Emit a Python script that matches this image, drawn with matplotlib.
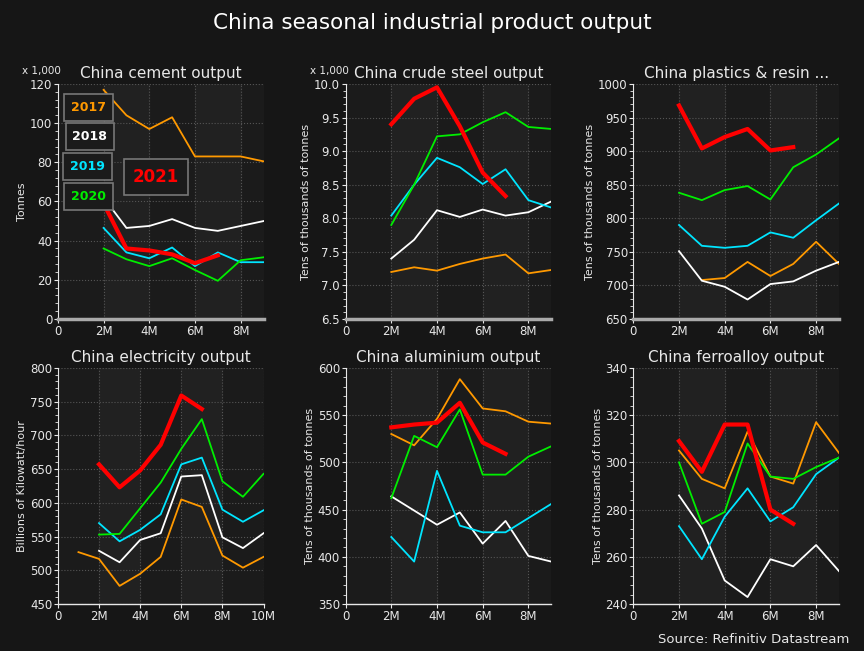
import matplotlib
matplotlib.use("Agg")
import matplotlib.pyplot as plt
from matplotlib.ticker import MultipleLocator, FixedLocator

months = [2, 3, 4, 5, 6, 7, 8, 9]
months_2021 = [2, 3, 4, 5, 6, 7]

cement_2017 = [117, 104, 97, 103, 83, 83, 83, 80.5]
cement_2018 = [62, 46.5, 47.5, 51, 46.5, 45, 47.5, 50]
cement_2019 = [46.5, 34, 31, 36.5, 27, 34, 29, 29]
cement_2020 = [36, 30.5, 27, 31, 25, 19.5, 30, 31.5]
cement_2021 = [59, 36, 35, 33, 28.5, 32.5]

steel_2017 = [7.2, 7.27, 7.22, 7.32, 7.4, 7.46, 7.18, 7.23]
steel_2018 = [7.4, 7.68, 8.12, 8.02, 8.13, 8.04, 8.09, 8.25]
steel_2019 = [8.04, 8.5, 8.9, 8.76, 8.51, 8.73, 8.27, 8.16]
steel_2020 = [7.9, 8.5, 9.22, 9.25, 9.43, 9.58, 9.36, 9.33]
steel_2021 = [9.4, 9.78, 9.95, 9.37, 8.68, 8.33]

plastics_months_2017 = [3, 4, 5, 6, 7, 8, 9]
plastics_2017 = [708, 711, 735, 714, 732, 765, 732]
plastics_2018 = [751, 707, 698, 679, 702, 706, 722, 735]
plastics_2019 = [790, 759, 756, 759, 779, 771, 797, 822]
plastics_2020 = [838, 827, 842, 848, 828, 876, 895, 919]
plastics_2021 = [968, 904, 921, 933, 901, 906]

elec_months_2017 = [1, 2, 3, 4, 5, 6, 7, 8, 9, 10]
elec_months = [2, 3, 4, 5, 6, 7, 8, 9, 10]
elec_2017 = [527, 517, 477, 495, 520, 605, 594, 522, 504, 520]
elec_2018 = [529, 512, 545, 555, 639, 641, 549, 533, 555]
elec_2019 = [570, 543, 560, 583, 657, 667, 590, 572, 589]
elec_2020 = [553, 554, 592, 630, 680, 724, 632, 609, 643]
elec_2021 = [657, 623, 648, 686, 759, 739]

alu_2017 = [530, 518, 546, 588, 557, 554, 543, 541]
alu_2018 = [464, 449, 434, 447, 414, 438, 401, 395]
alu_2019 = [421, 395, 491, 433, 426, 426, 441, 456]
alu_2020 = [462, 528, 516, 556, 487, 487, 506, 517]
alu_2021 = [537, 540, 542, 563, 521, 509]

ferro_2017 = [305, 293, 289, 313, 294, 291, 317, 304]
ferro_2018 = [286, 272, 250, 243, 259, 256, 265, 254]
ferro_2019 = [273, 259, 277, 289, 275, 281, 295, 302]
ferro_2020 = [300, 274, 279, 308, 294, 293, 298, 302]
ferro_2021 = [309, 296, 316, 316, 280, 274]

C17, C18, C19, C20, C21 = "#ff9900", "#ffffff", "#00e5ff", "#00ee00", "#ff0000"
FG = "#e8e8e8"

fig = plt.figure(figsize=(8.64, 6.51), dpi=100, facecolor="#161616")
fig.text(0.5, 0.965, "China seasonal industrial product output", ha="center", va="center",
         color="white", fontsize=15.5)


def make_panel(rect, title, ylabel, ylim, ystep, xmax, series, multiplier=False, bottom_gray=True):
    ax = fig.add_axes(rect, facecolor="#1b1b1b")
    for x0 in range(2, xmax, 4):
        ax.axvspan(x0, x0 + 2, color="#212121", zorder=0)
    for xs, ys, c, lw in series:
        ax.plot(xs, ys, color=c, lw=lw, zorder=3)
    ax.set_xlim(0, xmax)
    ax.set_ylim(*ylim)
    ax.xaxis.set_major_locator(FixedLocator(list(range(0, xmax + 1, 2))))
    ax.set_xticklabels(["0"] + ["%dM" % m for m in range(2, xmax + 1, 2)])
    ax.yaxis.set_major_locator(MultipleLocator(ystep))
    ax.yaxis.set_minor_locator(MultipleLocator(ystep / 5))
    ax.grid(True, color="#555555", ls=":", lw=0.8)
    ax.set_title(title, color=FG, fontsize=11, pad=4)
    ax.set_ylabel(ylabel, color=FG, fontsize=8, labelpad=2)
    ax.tick_params(colors=FG, labelsize=8.5, length=3, pad=1)
    ax.tick_params(which="minor", colors=FG, length=2)
    for s in ["top", "right"]:
        ax.spines[s].set_visible(False)
    ax.spines["left"].set_color(FG)
    ax.spines["bottom"].set_color("#aaaaaa" if bottom_gray else FG)
    ax.spines["bottom"].set_linewidth(2.5 if bottom_gray else 1)
    if multiplier:
        ax.text(-0.08, 1.035, "x 1,000", transform=ax.transAxes, ha="center", va="bottom",
                color=FG, fontsize=7.5)
    return ax


def yearly(x_full, d17, d18, d19, d20, d21, x17=None):
    return [(x17 or x_full, d17, C17, 1.3), (x_full, d18, C18, 1.3), (x_full, d19, C19, 1.3),
            (x_full, d20, C20, 1.3), (months_2021, d21, C21, 3)]


w, h = 0.238, 0.361
ax1 = make_panel([0.067, 0.51, w, h], "China cement output", "Tonnes", (0, 120), 20, 9,
                 yearly(months, cement_2017, cement_2018, cement_2019, cement_2020, cement_2021),
                 multiplier=True)
for label, x, y, c, fs in [("2017", 1.35, 108, C17, 9), ("2018", 1.4, 93, C18, 9),
                           ("2019", 1.3, 78, C19, 9), ("2020", 1.35, 62.5, C20, 9),
                           ("2021", 4.3, 72.5, C21, 12)]:
    ax1.text(x, y, label, color=c, fontsize=fs, fontweight="bold", ha="center", va="center",
             zorder=5, bbox=dict(boxstyle="square,pad=0.55", fc="#1b1b1b", ec="#777777", lw=1.2))

make_panel([0.40, 0.51, w, h], "China crude steel output", "Tens of thousands of tonnes",
           (6.5, 10.0), 0.5, 9,
           yearly(months, steel_2017, steel_2018, steel_2019, steel_2020, steel_2021),
           multiplier=True)
make_panel([0.733, 0.51, w, h], "China plastics & resin ...", "Tens of thousands of tonnes",
           (650, 1000), 50, 9,
           yearly(months, plastics_2017, plastics_2018, plastics_2019, plastics_2020,
                  plastics_2021, x17=plastics_months_2017))
make_panel([0.067, 0.072, w, 0.363], "China electricity output", "Billions of Kilowatt/hour",
           (450, 800), 50, 10,
           yearly(elec_months, elec_2017, elec_2018, elec_2019, elec_2020, elec_2021,
                  x17=elec_months_2017), bottom_gray=False)
make_panel([0.40, 0.072, w, 0.363], "China aluminium output", "Tens of thousands of tonnes",
           (350, 600), 50, 9,
           yearly(months, alu_2017, alu_2018, alu_2019, alu_2020, alu_2021),
           bottom_gray=False)
a6 = make_panel([0.733, 0.072, w, 0.363], "China ferroalloy output", "Tens of thousands of tonnes",
                (240, 340), 20, 9,
                yearly(months, ferro_2017, ferro_2018, ferro_2019, ferro_2020, ferro_2021),
                bottom_gray=False)
a6.yaxis.set_minor_locator(MultipleLocator(4))

fig.text(0.983, 0.008, "Source: Refinitiv Datastream", ha="right", va="bottom", color=FG, fontsize=9.5)

fig.savefig("out.png", dpi=100, facecolor=fig.get_facecolor())
